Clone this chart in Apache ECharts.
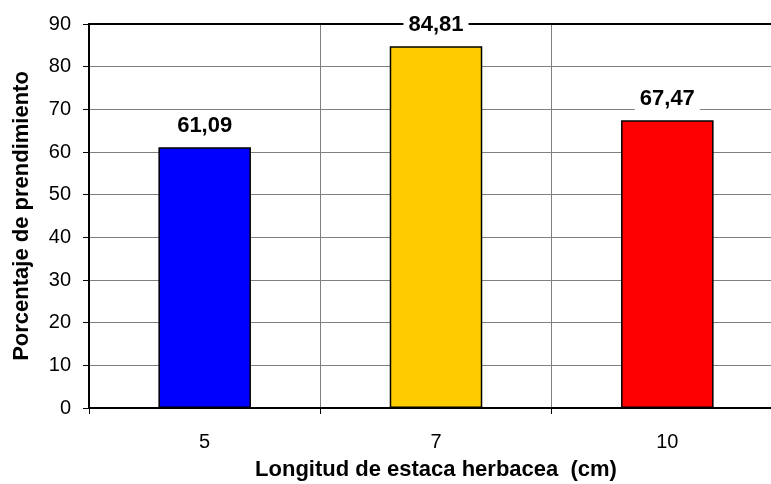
<!DOCTYPE html>
<html>
<head>
<meta charset="utf-8">
<script src="https://cdn.jsdelivr.net/npm/echarts@6/dist/echarts.min.js"></script>
<style>
  html, body { margin: 0; padding: 0; background: #fff; }
  #chart { width: 771px; height: 484px; }
</style>
</head>
<body>
<div id="chart"></div>
<script>
// Cutting length categories (cm) and rooting percentage per length
const lengths = ['5', '7', '10'];
const rooting = [61.09, 84.81, 67.47];
const barColors = ['#0000FF', '#FFCC00', '#FF0000'];
const yTicks = { min: 0, max: 90, step: 10 };

const FONT = '"Liberation Sans", Arial, sans-serif';

const chart = echarts.init(document.getElementById('chart'));
chart.setOption({
  animation: false,
  grid: { left: 89, top: 24, bottom: 76, right: -12, outerBoundsMode: 'none', containLabel: false },
  xAxis: [{
    type: 'category',
    data: lengths,
    name: 'Longitud de estaca herbacea  (cm)',
    nameLocation: 'middle',
    nameGap: 51,
    nameTextStyle: { fontFamily: FONT, fontSize: 22, fontWeight: 'bold', color: '#000' },
    axisLine: { lineStyle: { color: '#000', width: 2 } },
    axisTick: { show: true, length: 6, lineStyle: { color: '#000' } },
    axisLabel: { fontFamily: FONT, fontSize: 20, color: '#000', margin: 24 },
    splitLine: { show: true, lineStyle: { color: '#808080', width: 1 } }
  }, {
    // plain frame line along the top of the plot
    type: 'category',
    data: lengths,
    position: 'top',
    axisLine: { lineStyle: { color: '#000', width: 2 } },
    axisTick: { show: false },
    axisLabel: { show: false }
  }],
  yAxis: {
    type: 'value',
    min: yTicks.min,
    max: yTicks.max,
    interval: yTicks.step,
    name: 'Porcentaje de prendimiento',
    nameLocation: 'middle',
    nameGap: 56,
    nameTextStyle: { fontFamily: FONT, fontSize: 22, fontWeight: 'bold', color: '#000' },
    axisLine: { show: true, lineStyle: { color: '#000', width: 2 } },
    axisTick: { show: true, length: 6, lineStyle: { color: '#000' } },
    axisLabel: { fontFamily: FONT, fontSize: 20, color: '#000', margin: 18 },
    splitLine: { show: true, lineStyle: { color: '#808080', width: 1 } }
  },
  series: [{
    type: 'bar',
    xAxisIndex: 0,
    barWidth: '40%',
    data: rooting.map((v, i) => ({
      value: v,
      itemStyle: { color: barColors[i], borderColor: '#000', borderWidth: 1.5 }
    })),
    label: {
      show: true,
      position: 'top',
      distance: 8,
      backgroundColor: '#fff',
      padding: [2, 5],
      fontFamily: FONT,
      fontSize: 22,
      fontWeight: 'bold',
      color: '#000',
      formatter: p => p.value.toFixed(2).replace('.', ',')
    }
  }]
});
</script>
</body>
</html>
